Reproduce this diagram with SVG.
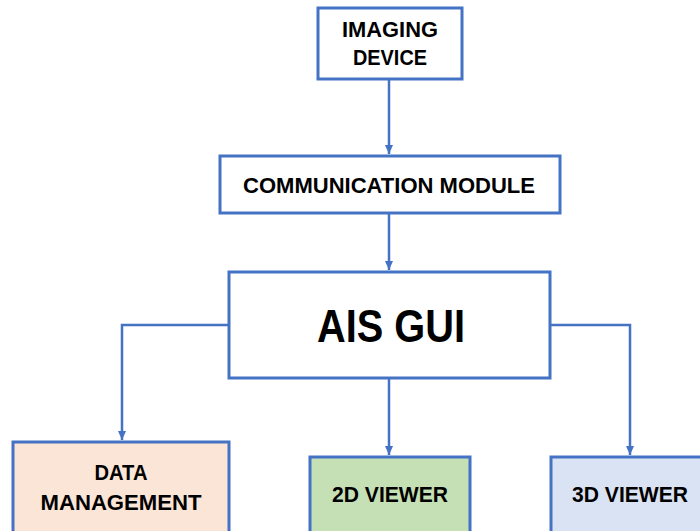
<svg xmlns="http://www.w3.org/2000/svg" width="700" height="531" viewBox="0 0 700 531">
<style>
.box{stroke:#4472C4;stroke-width:3;}
.t{font-family:"Liberation Sans",Arial,sans-serif;font-weight:bold;font-size:22px;fill:#000;text-anchor:middle;}
.big{font-size:46px;}
.c{fill:none;stroke:#4472C4;stroke-width:2.5;}
</style>
<defs>
<marker id="ah" markerWidth="10" markerHeight="8" refX="9" refY="4" orient="auto" markerUnits="userSpaceOnUse">
<path d="M0,0 L9,4 L0,8 Z" fill="#4472C4"/>
</marker>
</defs>
<rect width="700" height="531" fill="#fff"/>
<g id="connectors">
<path class="c" d="M389,79 V154" marker-end="url(#ah)"/>
<path class="c" d="M389,213 V270" marker-end="url(#ah)"/>
<path class="c" d="M229,325 H122 V440" marker-end="url(#ah)"/>
<path class="c" d="M389,378 V455" marker-end="url(#ah)"/>
<path class="c" d="M550,325 H630 V455" marker-end="url(#ah)"/>
</g>
<g id="imaging-device">
<rect class="box" x="318" y="8" width="144" height="71" fill="#fff"/>
<text class="t" x="390" y="37" textLength="96" lengthAdjust="spacingAndGlyphs">IMAGING</text>
<text class="t" x="390" y="65" textLength="74" lengthAdjust="spacingAndGlyphs">DEVICE</text>
</g>
<g id="communication-module">
<rect class="box" x="220" y="156" width="340" height="57" fill="#fff"/>
<text class="t" x="389" y="193" textLength="292" lengthAdjust="spacingAndGlyphs">COMMUNICATION MODULE</text>
</g>
<g id="ais-gui">
<rect class="box" x="229" y="272" width="321" height="106" fill="#fff"/>
<text class="t big" x="391" y="342" textLength="148" lengthAdjust="spacingAndGlyphs">AIS GUI</text>
</g>
<g id="data-management">
<rect class="box" x="13" y="442" width="216" height="100" fill="#FBE5D6"/>
<text class="t" x="121" y="480" textLength="53" lengthAdjust="spacingAndGlyphs">DATA</text>
<text class="t" x="121" y="510" textLength="161" lengthAdjust="spacingAndGlyphs">MANAGEMENT</text>
</g>
<g id="viewer-2d">
<rect class="box" x="310" y="457" width="160" height="85" fill="#C5E0B4"/>
<text class="t" x="390" y="502" textLength="116" lengthAdjust="spacingAndGlyphs">2D VIEWER</text>
</g>
<g id="viewer-3d">
<rect class="box" x="551" y="457" width="160" height="85" fill="#DAE3F3"/>
<text class="t" x="630" y="502" textLength="116" lengthAdjust="spacingAndGlyphs">3D VIEWER</text>
</g>
</svg>
